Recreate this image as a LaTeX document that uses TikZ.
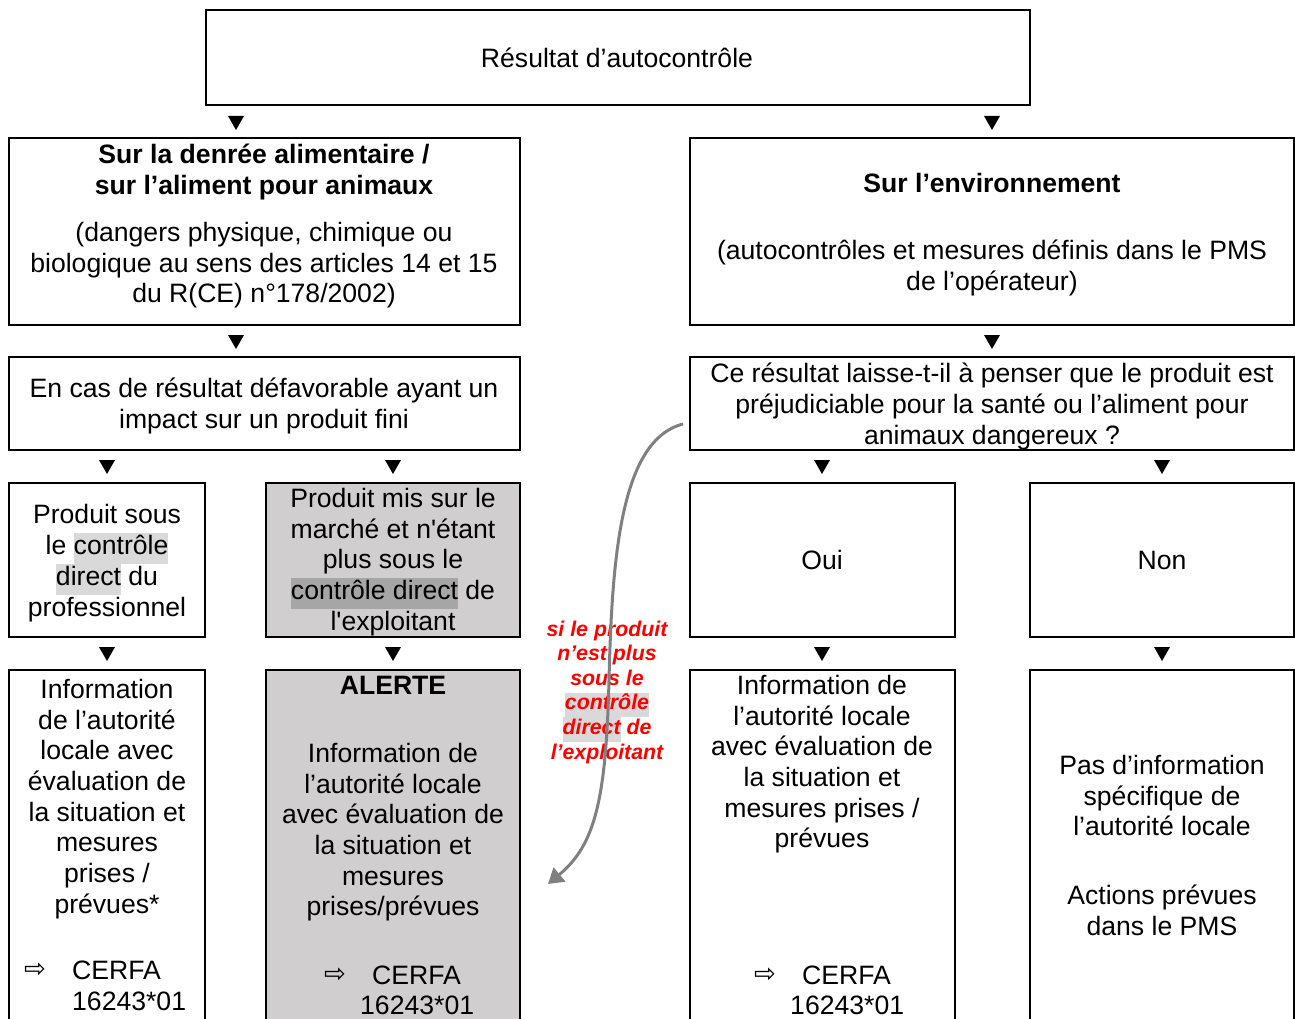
\documentclass[tikz,border=0pt]{standalone}
\usepackage{fontspec}
\setmainfont{Liberation Sans}
\newfontfamily\sqfont{Liberation Sans}[Ligatures=TeXOff]
\newfontfamily\dejavu{DejaVu Sans}
\usetikzlibrary{arrows.meta}
\definecolor{boxgray}{RGB}{208,206,206}
\definecolor{hlA}{RGB}{217,217,217}
\definecolor{hlB}{RGB}{166,166,166}
\definecolor{arrowgray}{RGB}{128,128,128}
\definecolor{redtxt}{RGB}{255,0,0}
\newcommand\fsn{\fontsize{26.6}{30.7}\selectfont}
\newcommand\fsr{\fontsize{21.3}{24.6}\selectfont}
\newcommand\hlbox[2]{{\setlength{\fboxsep}{0pt}\colorbox{#1}{\strut #2}}}
\newcommand\sq{{\sqfont\char39}}
\begin{document}
\begin{tikzpicture}[x=1pt,y=-1pt,
  box/.style={draw, line width=2pt, inner sep=0pt, outer sep=0pt, anchor=north west},
  graybox/.style={box, fill=boxgray},
  txt/.style={font=\fsn, align=center, inner sep=0pt, anchor=north,
    execute at begin node=\strut, execute at end node=\strut},
  btxt/.style={txt, font=\fsn\bfseries},
  redlabel/.style={font=\fsr\bfseries\itshape, text=redtxt, align=center, inner sep=0pt, anchor=north,
    execute at begin node=\strut, execute at end node=\strut},
  cerfa/.style={font=\fsn, inner sep=0pt, anchor=base west},
  arrsym/.style={font=\dejavu\fontsize{26}{30}\selectfont, inner sep=0pt, anchor=center},
  downtri/.pic={\fill (-8,-7) -- (8,-7) -- (0,7) -- cycle;}
]
\useasboundingbox (0,0) rectangle (1295,1019);
\fill[white] (0,0) rectangle (1295,1019);
\clip (0,0) rectangle (1295,1019);

% boxes
\node[box, minimum width=824pt, minimum height=95pt] (top) at (205.5,10.5) {};
\node[box, minimum width=511pt, minimum height=186pt] (L1) at (9,138.5) {};
\node[box, minimum width=604pt, minimum height=186pt] (R1) at (690,138.5) {};
\node[box, minimum width=511pt, minimum height=93pt] (L2) at (9,357) {};
\node[box, minimum width=604pt, minimum height=93pt] (R2) at (690,357) {};
\node[box, minimum width=196pt, minimum height=154pt] (A) at (9,482.5) {};
\node[graybox, minimum width=254pt, minimum height=154pt] (B) at (266,482.5) {};
\node[box, minimum width=265pt, minimum height=154pt] (Oui) at (690,482.5) {};
\node[box, minimum width=264pt, minimum height=154pt] (Non) at (1030,482.5) {};
\node[box, minimum width=196pt, minimum height=370pt] (C) at (9,669.5) {};
\node[graybox, minimum width=254pt, minimum height=370pt] (D) at (266,669.5) {};
\node[box, minimum width=265pt, minimum height=370pt] (E) at (690,669.5) {};
\node[box, minimum width=264pt, minimum height=370pt] (F) at (1030,669.5) {};

% texts
\node[txt] (ttop) at (617,45.5) {Résultat d’autocontrôle};
\node[btxt] (tL1a) at (264,144) {Sur la denrée alimentaire /\\sur l’aliment pour animaux};
\node[txt] (tL1b) at (264,222) {(dangers physique, chimique ou\\biologique au sens des articles 14 et 15\\du R(CE) n°178/2002)};
\node[btxt] (tR1a) at (992,170.5) {Sur l’environnement};
\node[txt] (tR1b) at (992,240) {(autocontrôles et mesures définis dans le PMS\\de l’opérateur)};
\node[txt] (tL2) at (264,378) {En cas de résultat défavorable ayant un\\impact sur un produit fini};
\node[txt] (tR2) at (992,363) {Ce résultat laisse-t-il à penser que le produit est\\préjudiciable pour la santé ou l’aliment pour\\animaux dangereux ?};
\node[txt] (tA) at (107,504.5) {Produit sous\\le \hlbox{hlA}{contrôle}\\\hlbox{hlA}{direct} du\\professionnel};
\node[txt] (tB) at (393,488) {Produit mis sur le\\marché et n\sq étant\\plus sous le\\\hlbox{hlB}{contrôle direct} de\\l\sq exploitant};
\node[txt] (tOui) at (822,547.5) {Oui};
\node[txt] (tNon) at (1162,547.5) {Non};
\node[txt] (tC) at (107,679) {Information\\de l’autorité\\locale avec\\évaluation de\\la situation et\\mesures\\prises /\\prévues*};
\node[btxt] (tDa) at (393,672.5) {ALERTE};
\node[txt] (tDb) at (393,743) {Information de\\l’autorité locale\\avec évaluation de\\la situation et\\mesures\\prises/prévues};
\node[txt] (tE) at (822,675) {Information de\\l’autorité locale\\avec évaluation de\\la situation et\\mesures prises /\\prévues};
\node[txt] (tFa) at (1162,755) {Pas d’information\\spécifique de\\l’autorité locale};
\node[txt] (tFb) at (1162,885) {Actions prévues\\dans le PMS};

% CERFA lines
\node[arrsym] (aC) at (35,970) {⇨};
\node[cerfa] (cC1) at (72,979) {CERFA};
\node[cerfa] (cC2) at (72,1010) {16243*01};
\node[arrsym] (aD) at (335,975) {⇨};
\node[cerfa] (cD1) at (372,984) {CERFA};
\node[cerfa] (cD2) at (360,1014) {16243*01};
\node[arrsym] (aE) at (765,975) {⇨};
\node[cerfa] (cE1) at (802,984) {CERFA};
\node[cerfa] (cE2) at (790,1014) {16243*01};

% down triangles
\foreach \px/\py in {236/123, 992/123, 236/342, 992/342,
                     107/467, 393/467, 822/467, 1162/467,
                     107/654, 393/654, 822/654, 1162/654}
  \pic at (\px,\py) {downtri};

% red label
\node[redlabel] (red) at (607,620.5) {si le produit\\n’est plus\\sous le\\\hlbox{hlA}{contrôle}\\\hlbox{hlA}{direct} de\\l’exploitant};

% curved arrow
\coordinate (cs) at (683,424);
\coordinate (ce) at (548,884);
\draw[arrowgray, line width=3pt, -{Triangle[length=15pt,width=18pt]}]
  (cs) .. controls (620,440) and (612,560) .. (609,680)
       .. controls (606,800) and (595,845) .. (ce);
\end{tikzpicture}
\end{document}
